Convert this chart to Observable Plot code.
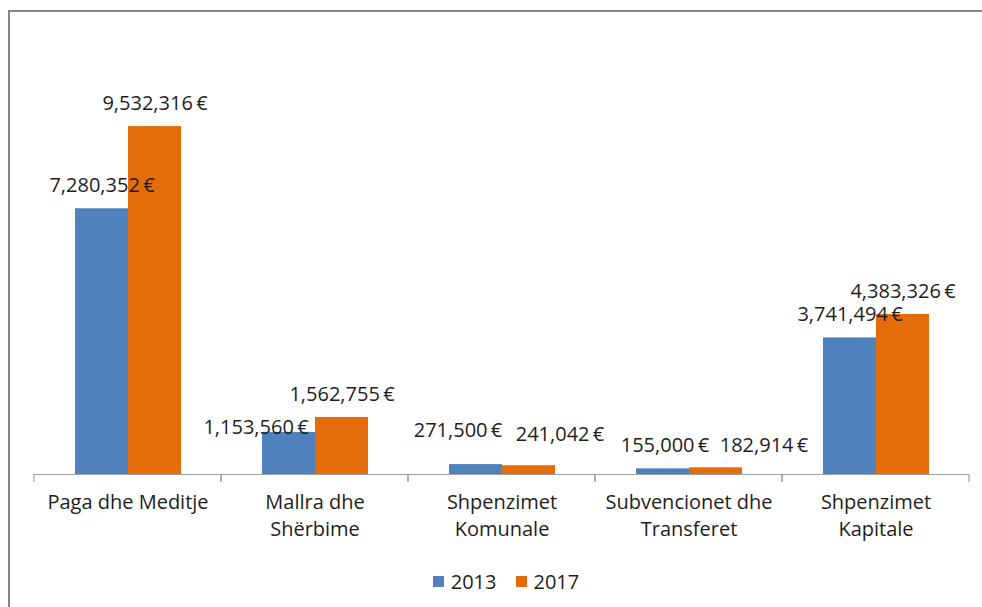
<!DOCTYPE html>
<html>
<head>
<meta charset="utf-8">
<script src="https://cdn.jsdelivr.net/npm/d3@7"></script>
<script src="https://cdn.jsdelivr.net/npm/@observablehq/plot@0.6"></script>
<style>
  html, body { margin: 0; padding: 0; background: #fff; width: 982px; height: 607px; overflow: hidden; }
  #frame { position: absolute; left: 8px; top: 10px; width: 1000px; height: 620px;
           border-left: 2px solid #868686; border-top: 2px solid #868686; }
  #chart { position: absolute; left: 0; top: 0; }
  #legend { position: absolute; left: 15px; top: 568px; width: 982px; display: flex; justify-content: center;
            font-family: "Open Sans", sans-serif; font-size: 20px; color: #1e1e1e; }
  .item { display: flex; align-items: center; }
  .sw { width: 11px; height: 11px; margin-right: 7px; }
</style>
</head>
<body>
<div id="frame"></div>
<div id="chart"></div>
<div id="legend"></div>
<script>
// ---- data ----
const categories = [
  "Paga dhe Meditje",
  "Mallra dhe\nShërbime",
  "Shpenzimet\nKomunale",
  "Subvencionet dhe\nTransferet",
  "Shpenzimet\nKapitale"
];
const years = ["2013", "2017"];
const values2013 = [7280352, 1153560, 271500, 155000, 3741494];
const values2017 = [9532316, 1562755, 241042, 182914, 4383326];
const colors = ["#4F81BD", "#E46C0A"];

// manual label nudges (as moved in the original), keyed by category index and year
const labelNudge = [
  {cat: 1, year: "2013", dx: -33, dy: -5},
  {cat: 2, year: "2013", dx: -18, dy: -34},
  {cat: 2, year: "2017", dx: 31, dy: -31},
  {cat: 3, year: "2013", dx: 2, dy: -23},
  {cat: 3, year: "2017", dx: 48, dy: -22}
];

const rows = [];
categories.forEach((c, i) => {
  rows.push({category: c, ci: i, year: years[0], value: values2013[i]});
  rows.push({category: c, ci: i, year: years[1], value: values2017[i]});
});

const fmt = v => d3.format(",")(v) + "\u2009€";
const defaultDy = -23;

const nudgeOf = d => labelNudge.find(n => n.cat === d.ci && n.year === d.year);
const labelMarks = [];
labelMarks.push(Plot.text(rows.filter(d => !nudgeOf(d)), {
  fx: "category", x: "year", y: "value", text: d => fmt(d.value),
  dy: defaultDy, fontSize: 20, fill: "#1e1e1e"
}));
for (const n of labelNudge) {
  labelMarks.push(Plot.text(rows.filter(d => d.ci === n.cat && d.year === n.year), {
    fx: "category", x: "year", y: "value", text: d => fmt(d.value),
    dx: n.dx, dy: n.dy, fontSize: 20, fill: "#1e1e1e"
  }));
}

// category boundary tick marks under the baseline (drawn at each facet's edges)
const edgeTicks = (index, scales, values, dims) => {
  const r = scales.x.range ? scales.x.range() : [dims.marginLeft, dims.width - dims.marginRight];
  const y0 = scales.y(0);
  const g = d3.create("svg:g").attr("stroke", "#A0A0A0").attr("stroke-width", 1.2);
  for (const x of r) {
    g.append("line").attr("x1", x).attr("x2", x).attr("y1", y0).attr("y2", y0 + 8);
  }
  return g.node();
};

const chart = Plot.plot({
  width: 982,
  height: 554,
  marginTop: 109,
  marginBottom: 80,
  marginLeft: 33,
  marginRight: 12,
  style: {fontFamily: "Open Sans, sans-serif", fontSize: "20px", color: "#1e1e1e", background: "transparent", overflow: "visible"},
  fx: {domain: categories, padding: 0, label: null},
  x: {domain: years, paddingInner: 0, paddingOuter: 0.75, axis: null},
  y: {domain: [0, 10000000], axis: null},
  color: {domain: years, range: colors},
  marks: [
    Plot.barY(rows, {fx: "category", x: "year", y: "value", fill: "year", inset: 0}),
    Plot.ruleY([0], {stroke: "#A0A0A0", strokeWidth: 1.2}),
    edgeTicks,
    Plot.axisFx({anchor: "bottom", tickSize: 0, tickPadding: 15, fontSize: 20, lineHeight: 1.35, label: null, fill: "#1e1e1e"}),
    ...labelMarks
  ]
});
document.getElementById("chart").appendChild(chart);

// legend
const legend = document.getElementById("legend");
years.forEach((y, i) => {
  const item = document.createElement("div");
  item.className = "item";
  item.style.marginRight = i === 0 ? "19px" : "0";
  const sw = document.createElement("span");
  sw.className = "sw";
  sw.style.background = colors[i];
  const t = document.createElement("span");
  t.textContent = y;
  item.appendChild(sw);
  item.appendChild(t);
  legend.appendChild(item);
});
</script>
</body>
</html>
